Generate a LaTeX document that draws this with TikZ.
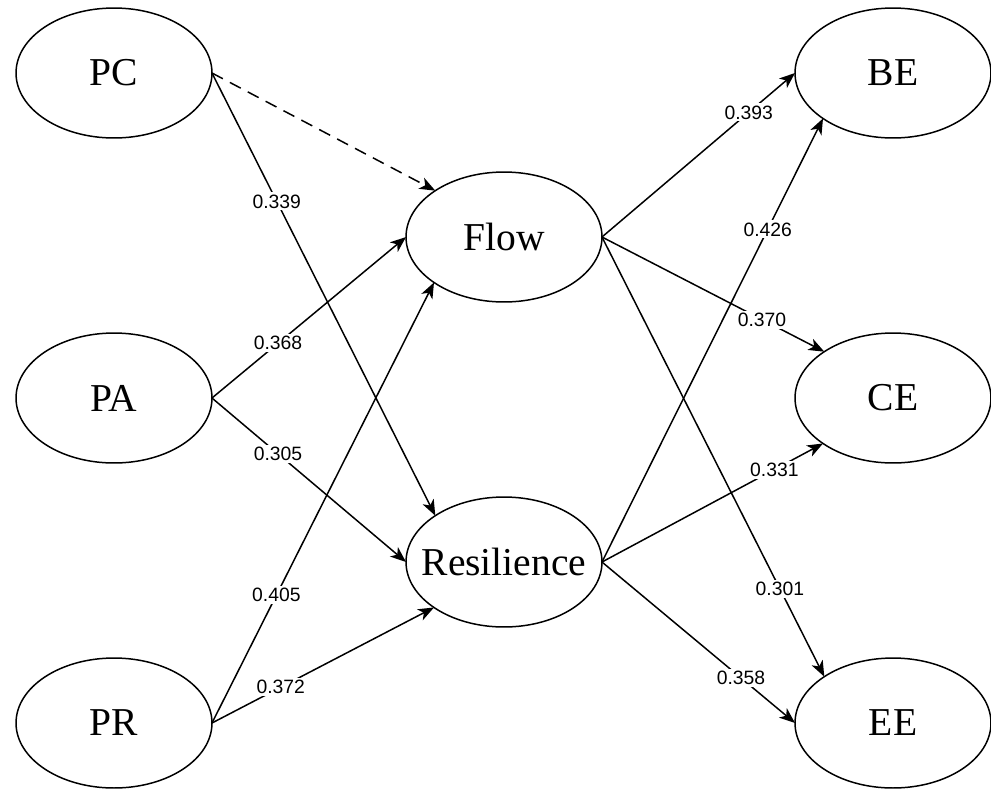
\documentclass[tikz,border=0pt]{standalone}
\usepackage{fontspec}
\setmainfont{Liberation Serif}
\newfontfamily\lblfont{Liberation Sans}
\usetikzlibrary{shapes.geometric,arrows.meta}
\newcommand{\ctrtext}[1]{\makebox[0pt][c]{#1}}
\begin{document}
\begin{tikzpicture}[x=0.02cm,y=-0.02cm,
  latent/.style={ellipse,draw,line width=0.85pt,minimum width=3.92cm,minimum height=2.6cm,inner sep=0pt,outer sep=0pt,font=\fontsize{22.5}{26}\selectfont},
  path/.style={line width=0.85pt,-{Stealth[length=9pt,width=7pt,inset=2.5pt]}},
  coef/.style={fill=white,inner sep=1.2pt,font=\lblfont\fontsize{11}{13}\selectfont}]
\useasboundingbox (0,0) rectangle (991,789);
\node[latent] (PC) at (114,73) {\ctrtext{PC}};
\node[latent] (PA) at (114,398) {\ctrtext{PA}};
\node[latent] (PR) at (114,723) {\ctrtext{PR}};
\node[latent] (Flow) at (504,237) {\ctrtext{Flow}};
\node[latent] (Res) at (504,562) {\ctrtext{Resilience}};
\node[latent] (BE) at (893,73) {\ctrtext{BE}};
\node[latent] (CE) at (893,398) {\ctrtext{CE}};
\node[latent] (EE) at (893,723) {\ctrtext{EE}};
\draw[path,dash pattern=on 7pt off 4.5pt] (PC.east) -- (Flow.146.5);
\draw[path] (PC.east) -- node[coef,pos=0.29] {0.339} (Res.146);
\draw[path] (PA.east) -- node[coef,pos=0.34] {0.368} (Flow.west);
\draw[path] (PA.east) -- node[coef,pos=0.34] {0.305} (Res.west);
\draw[path] (PR.east) -- node[coef,pos=0.29] {0.405} (Flow.213.5);
\draw[path] (PR.east) -- node[coef,pos=0.31] {0.372} (Res.213.5);
\draw[path] (Flow.east) -- node[coef,pos=0.76] {0.393} (BE.west);
\draw[path] (Flow.east) -- node[coef,pos=0.72] {0.370} (CE.146.5);
\draw[path] (Flow.east) -- node[coef,pos=0.80] {0.301} (EE.146.5);
\draw[path] (Res.east) -- node[coef,pos=0.75] {0.426} (BE.213.5);
\draw[path] (Res.east) -- node[coef,pos=0.78] {0.331} (CE.213.5);
\draw[path] (Res.east) -- node[coef,pos=0.72] {0.358} (EE.west);
\end{tikzpicture}
\end{document}
